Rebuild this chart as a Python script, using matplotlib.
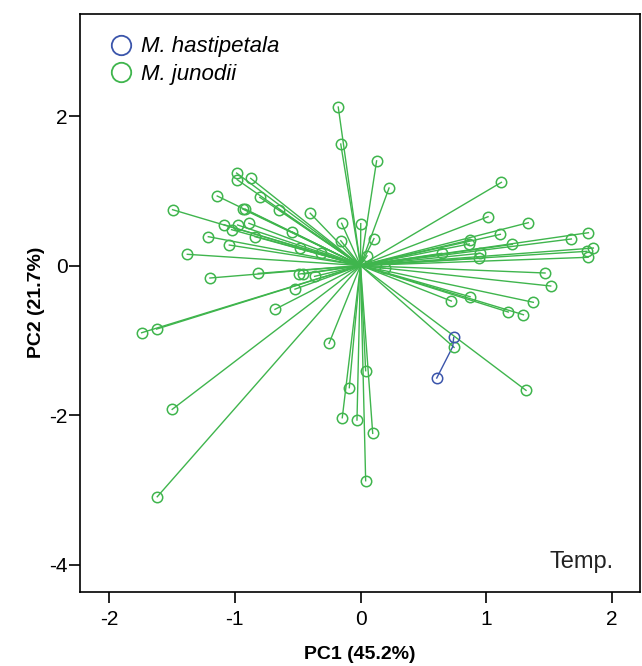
import numpy as np
import matplotlib
matplotlib.use("Agg")
import matplotlib.pyplot as plt
from matplotlib.lines import Line2D

plt.rcParams["font.family"] = ["Liberation Sans", "DejaVu Sans"]
plt.rcParams["axes.unicode_minus"] = False

# PCA scores
jun_x = [-0.177, -0.157, 0.128, -0.985, -0.98, -0.873, -1.139, -0.80, -0.937, -0.918,
         -0.645, -0.40, -1.494, -0.15, 0.002, -1.085, -0.977, -0.887, -1.025, -0.542,
         -1.21, -0.839, -0.157, 0.107, -1.043, -0.484, -0.317, -1.377, 0.052,
         0.227, 1.12, 1.014, 1.334, 1.812, 1.112, 1.676, 0.871, 0.865, 1.207,
         1.851, 1.799, 1.809, 0.646, 0.95, 0.945, 0.197,
         1.467, 1.512, 1.374, 0.722, 0.871, 1.175, 1.295, 0.744, 1.316,
         0.041, -0.089, -0.145, -0.028, 0.097, 0.041,
         -1.197, -0.813, -0.487, -0.455, -0.365, -0.521, -0.68, -1.74, -1.621,
         -0.25, -1.497, -1.616]
jun_y = [2.12, 1.625, 1.40, 1.237, 1.148, 1.166, 0.93, 0.912, 0.756, 0.756,
         0.747, 0.70, 0.747, 0.565, 0.56, 0.546, 0.542, 0.565, 0.48, 0.448,
         0.386, 0.386, 0.332, 0.36, 0.274, 0.23, 0.174, 0.15, 0.13,
         1.037, 1.113, 0.653, 0.573, 0.439, 0.417, 0.355, 0.341, 0.288, 0.283,
         0.234, 0.19, 0.11, 0.163, 0.163, 0.096, -0.038,
         -0.10, -0.274, -0.492, -0.475, -0.417, -0.622, -0.658, -1.095, -1.67,
         -1.407, -1.634, -2.036, -2.067, -2.245, -2.879,
         -0.167, -0.105, -0.114, -0.114, -0.145, -0.316, -0.586, -0.899, -0.85,
         -1.041, -1.924, -3.093]
jun_center = (0.0, 0.0)

hast_x = [0.741, 0.606]
hast_y = [-0.961, -1.505]
hast_center = (0.733, -1.086)

green = "#3fb54d"
blue = "#3b55ab"

fig = plt.figure(figsize=(6.42, 6.66), dpi=100)
ax = fig.add_axes([0.1246, 0.111, 0.8723, 0.8687])

# star plot: segment from group centre to each observation
for xs, ys, c, col in [(jun_x, jun_y, jun_center, green), (hast_x, hast_y, hast_center, blue)]:
    for x, y in zip(xs, ys):
        ax.plot([c[0], x], [c[1], y], color=col, lw=1.0, zorder=2)
    ax.plot(xs, ys, ls="none", marker="o", ms=7.5, mfc="none", mec=col, mew=1.1, zorder=3)

ax.set_xlim(-2.23, 2.222)
ax.set_ylim(-4.368, 3.371)
ax.set_xticks([-2, -1, 0, 1, 2])
ax.set_yticks([-4, -2, 0, 2])
ax.tick_params(direction="out", length=8, width=1.2, labelsize=15, colors="black")
ax.tick_params(axis="x", pad=5)
ax.tick_params(axis="y", pad=1)
for s in ax.spines.values():
    s.set_linewidth(1.2)

ax.set_xlabel("PC1 (45.2%)", fontsize=14, fontweight="bold", labelpad=12)
ax.set_ylabel("PC2 (21.7%)", fontsize=14, fontweight="bold")
ax.yaxis.set_label_coords(-0.063, 0.5)

ax.text(0.9536, 0.052, "Temp.", transform=ax.transAxes, fontsize=17,
        ha="right", va="center", color="#222222")

handles = [Line2D([], [], ls="none", marker="o", ms=14, mfc="none", mec=blue, mew=1.3),
           Line2D([], [], ls="none", marker="o", ms=14, mfc="none", mec=green, mew=1.3)]
leg = ax.legend(handles, ["M. hastipetala", "M. junodii"], loc="upper left",
                frameon=False, fontsize=16, handletextpad=0.35, labelspacing=0.3,
                borderaxespad=0.0, bbox_to_anchor=(0.035, 0.976), handlelength=1.1)
for t in leg.get_texts():
    t.set_fontstyle("italic")

fig.savefig("out.png", dpi=100)
